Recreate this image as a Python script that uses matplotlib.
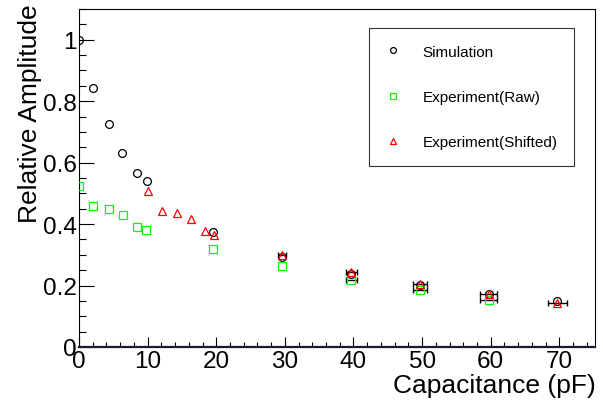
import matplotlib
matplotlib.use("Agg")
import matplotlib.pyplot as plt
from matplotlib.ticker import MultipleLocator, FixedLocator, FixedFormatter

plt.rcParams['font.family'] = ['Liberation Sans', 'DejaVu Sans']

# Data
sim_c = [0, 2, 4.3, 6.3, 8.5, 9.9, 19.6, 29.6, 39.7, 49.7, 59.7, 69.7]
sim_a = [1.0, 0.844, 0.726, 0.632, 0.567, 0.540, 0.373, 0.292, 0.238, 0.203, 0.174, 0.149]

raw_c = [0, 2.1, 4.3, 6.4, 8.4, 9.7, 19.6, 29.6, 39.7, 49.7, 59.7]
raw_a = [0.525, 0.458, 0.450, 0.431, 0.392, 0.381, 0.318, 0.264, 0.219, 0.187, 0.154]
raw_cerr = [0, 0, 0, 0, 0, 0, 0, 0, 0.8, 1.0, 1.2]

sh_c = [10.0, 12.1, 14.3, 16.3, 18.4, 19.7, 29.6, 39.7, 49.7, 59.7, 69.7]
sh_a = [0.507, 0.444, 0.435, 0.416, 0.378, 0.365, 0.300, 0.245, 0.205, 0.173, 0.143]
sh_cerr = [0, 0, 0, 0, 0, 0, 0.6, 0.8, 1.0, 1.2, 1.4]

xticks = [0, 10, 20, 30, 40, 50, 60, 70]
xticklabels = ['0', '10', '20', '30', '40', '50', '60', '70']
yticks = [0, 0.2, 0.4, 0.6, 0.8, 1.0]
yticklabels = ['0', '0.2', '0.4', '0.6', '0.8', '1']

fig = plt.figure(figsize=(6.03, 4.06), dpi=100)
ax = fig.add_axes([79/603, 1-348/406, (595-79)/603, (348-10)/406])


def with_err(cs, as_, es):
    keep = [i for i, e in enumerate(es) if e > 0]
    return [cs[i] for i in keep], [as_[i] for i in keep], [es[i] for i in keep]


for cs, as_, es in (with_err(raw_c, raw_a, raw_cerr), with_err(sh_c, sh_a, sh_cerr)):
    ax.errorbar(cs, as_, xerr=es, fmt='none', ecolor='black',
                elinewidth=1.0, capsize=2.2, capthick=1.0, zorder=2)

ax.plot(sim_c, sim_a, linestyle='none', marker='o', ms=5.6, mfc='none',
        mec='black', mew=0.9, label='Simulation', zorder=3)
ax.plot(raw_c, raw_a, linestyle='none', marker='s', ms=5.2, mfc='none',
        mec='#00ff00', mew=0.9, label='Experiment(Raw)', zorder=4)
ax.plot(sh_c, sh_a, linestyle='none', marker='^', ms=6.0, mfc='none',
        mec='#ff0000', mew=0.9, label='Experiment(Shifted)', zorder=5)

ax.set_xlim(0, 75.2)
ax.set_ylim(0, 1.1)

ax.xaxis.set_major_locator(FixedLocator(xticks))
ax.xaxis.set_major_formatter(FixedFormatter(xticklabels))
ax.xaxis.set_minor_locator(MultipleLocator(2))
ax.yaxis.set_major_locator(FixedLocator(yticks))
ax.yaxis.set_major_formatter(FixedFormatter(yticklabels))
ax.yaxis.set_minor_locator(MultipleLocator(0.05))

ax.tick_params(axis='both', which='both', direction='in', top=False, right=False,
               colors='black', labelsize=17.5)
ax.tick_params(axis='x', which='major', length=7.5, width=0.8, pad=2)
ax.tick_params(axis='x', which='minor', length=3.8, width=0.8)
ax.tick_params(axis='y', which='major', length=10.5, width=0.8, pad=1.5)
ax.tick_params(axis='y', which='minor', length=5.2, width=0.8)

for s in ['left', 'top', 'right']:
    ax.spines[s].set_linewidth(0.8)
ax.spines['bottom'].set_linewidth(1.6)
ax.spines['bottom'].set_color('#1a1a33')

fig.text(30/603, 1-4/406, 'Relative Amplitude', rotation=90, ha='center', va='top',
         fontsize=19)
fig.text(596/603, 1-386/406, 'Capacitance (pF)', ha='right', va='center', fontsize=19)

leg = ax.legend(loc='upper left', bbox_to_anchor=(0.562, 0.944), fontsize=11,
                frameon=True, fancybox=False, borderpad=1.1, labelspacing=2.05,
                handlelength=1.0, handletextpad=1.4, borderaxespad=0,
                markerscale=0.75)
leg.get_frame().set_edgecolor('black')
leg.get_frame().set_linewidth(0.8)

fig.savefig('out.png', dpi=100)
